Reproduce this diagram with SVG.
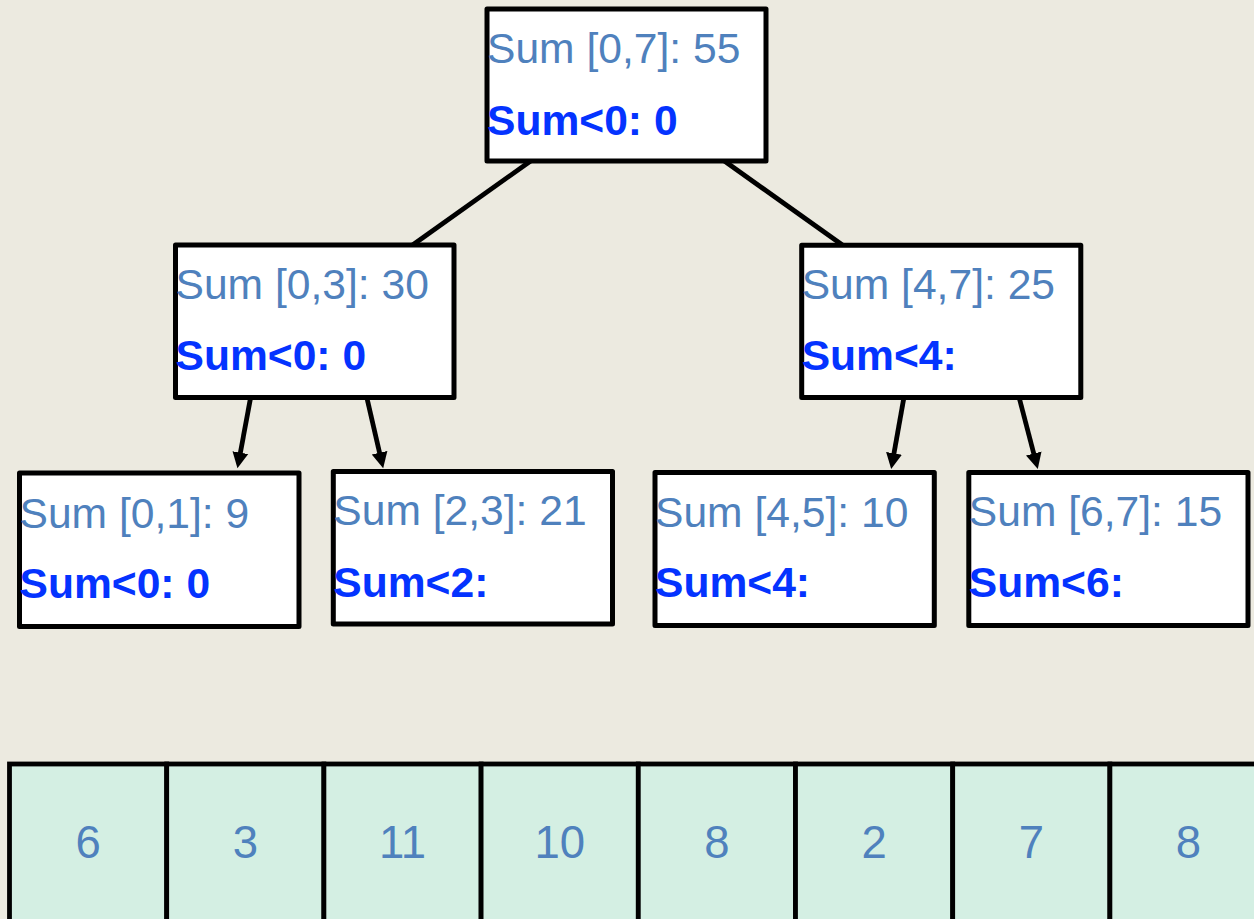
<svg xmlns="http://www.w3.org/2000/svg" width="1254" height="919" viewBox="0 0 1254 919">
<style>
.bg{fill:#ECEAE0}
.box{fill:#ffffff;stroke:#000;stroke-width:5;stroke-linejoin:round}
.t1{font-family:"Liberation Sans",Arial,sans-serif;font-size:42.6px;fill:#4F81BD}
.t2{font-family:"Liberation Sans",Arial,sans-serif;font-size:42.6px;font-weight:bold;fill:#0433FF}
.edge{stroke:#000;stroke-width:4.8;fill:none}
.cell{fill:#D4EFE3;stroke:#000;stroke-width:4.8}
.num{font-family:"Liberation Sans",Arial,sans-serif;font-size:45.5px;fill:#4F81BD;text-anchor:middle}
</style>
<defs>
<marker id="ah" markerUnits="userSpaceOnUse" markerWidth="18" markerHeight="18" viewBox="0 -9 18 18" refX="1" refY="0" orient="auto">
<path d="M0,-8 L16,0 L0,8 z" fill="#000"/>
</marker>
</defs>
<rect class="bg" x="0" y="0" width="1254" height="919"/>
<g id="connectors">
<line class="edge" x1="530.6" y1="161" x2="412.6" y2="245"/>
<line class="edge" x1="724.4" y1="161" x2="842.4" y2="245"/>
<line class="edge" x1="250.7" y1="397" x2="240.2" y2="453.6" marker-end="url(#ah)"/>
<line class="edge" x1="366.7" y1="397" x2="379.8" y2="453.7" marker-end="url(#ah)"/>
<line class="edge" x1="904" y1="397" x2="893.8" y2="454.3" marker-end="url(#ah)"/>
<line class="edge" x1="1019" y1="397" x2="1034" y2="454.5" marker-end="url(#ah)"/>
</g>
<g id="node-0-7">
<rect class="box" x="487" y="9" width="279" height="152"/>
<text class="t1" x="487" y="63">Sum [0,7]: 55</text>
<text class="t2" x="487" y="135">Sum&lt;0: 0</text>
</g>
<g id="node-0-3">
<rect class="box" x="175.5" y="245" width="278.5" height="152.5"/>
<text class="t1" x="175.5" y="298.5">Sum [0,3]: 30</text>
<text class="t2" x="175.5" y="370">Sum&lt;0: 0</text>
</g>
<g id="node-4-7">
<rect class="box" x="801.7" y="245.2" width="279.1" height="152.3"/>
<text class="t1" x="801.7" y="298.5">Sum [4,7]: 25</text>
<text class="t2" x="801.7" y="370">Sum&lt;4:</text>
</g>
<g id="node-0-1">
<rect class="box" x="19.5" y="473" width="279.5" height="153.5"/>
<text class="t1" x="19.5" y="528">Sum [0,1]: 9</text>
<text class="t2" x="19.5" y="598">Sum&lt;0: 0</text>
</g>
<g id="node-2-3">
<rect class="box" x="333.3" y="471.5" width="279.2" height="152.5"/>
<text class="t1" x="333.3" y="524.5">Sum [2,3]: 21</text>
<text class="t2" x="333.3" y="596.5">Sum&lt;2:</text>
</g>
<g id="node-4-5">
<rect class="box" x="655" y="472.5" width="279.3" height="153"/>
<text class="t1" x="655" y="526.5">Sum [4,5]: 10</text>
<text class="t2" x="655" y="596.5">Sum&lt;4:</text>
</g>
<g id="node-6-7">
<rect class="box" x="968.8" y="472.5" width="279.2" height="153"/>
<text class="t1" x="968.8" y="526">Sum [6,7]: 15</text>
<text class="t2" x="968.8" y="596.5">Sum&lt;6:</text>
</g>
<g id="array">
<rect class="cell" x="9.5" y="764" width="157.2" height="200"/>
<rect class="cell" x="166.7" y="764" width="157.2" height="200"/>
<rect class="cell" x="323.9" y="764" width="157.2" height="200"/>
<rect class="cell" x="481.1" y="764" width="157.2" height="200"/>
<rect class="cell" x="638.3" y="764" width="157.2" height="200"/>
<rect class="cell" x="795.5" y="764" width="157.2" height="200"/>
<rect class="cell" x="952.7" y="764" width="157.2" height="200"/>
<rect class="cell" x="1109.9" y="764" width="157.2" height="200"/>
<text class="num" x="88.1" y="858">6</text>
<text class="num" x="245.3" y="858">3</text>
<text class="num" x="402.5" y="858">11</text>
<text class="num" x="559.7" y="858">10</text>
<text class="num" x="716.9" y="858">8</text>
<text class="num" x="874.1" y="858">2</text>
<text class="num" x="1031.3" y="858">7</text>
<text class="num" x="1188.5" y="858">8</text>
</g>
</svg>
